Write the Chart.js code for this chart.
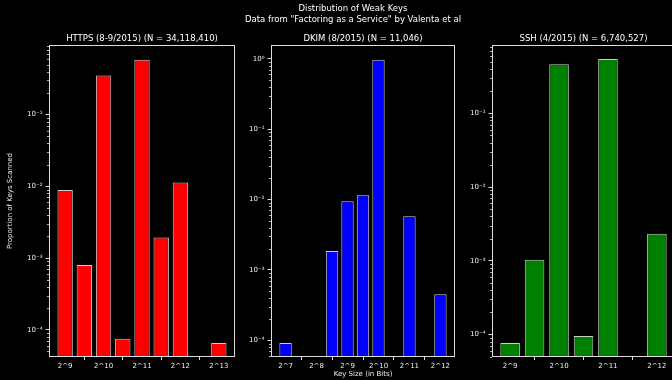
<!DOCTYPE html>
<html>
<head>
<meta charset="utf-8">
<script src="https://cdn.jsdelivr.net/npm/chart.js@4"></script>
<style>
  body { margin: 0; background: #000; overflow: hidden; width: 672px; height: 380px; position: relative; }
  .box { position: absolute; top: 0; height: 380px; }
  #suptitle { position: absolute; top: 3px; left: 0; width: 706px; text-align: center; color: #fff;
              font: 8.5px "DejaVu Sans"; line-height: 11px; z-index: 2; }
</style>
</head>
<body>
<div id="suptitle">Distribution of Weak Keys<br>Data from "Factoring as a Service" by Valenta et al</div>
<div class="box" style="left:0;width:240px"><canvas id="chart1"></canvas></div>
<div class="box" style="left:240px;width:220px"><canvas id="chart2"></canvas></div>
<div class="box" style="left:460px;width:220px"><canvas id="chart3"></canvas></div>
<script>
// key sizes (bits) per panel and proportion of keys scanned
var httpsSizes = [512, 768, 1024, 1536, 2048, 3072, 4096, 6144, 8192];
var httpsValues = [0.0089, 0.0008, 0.353, 0.000075, 0.585, 0.00194, 0.0113, null, 0.000065];

var dkimSizes = [128, 192, 256, 384, 512, 768, 1024, 1536, 2048, 3072, 4096];
var dkimValues = [0.000092, null, null, 0.00186, 0.0095, 0.0115, 0.968, null, 0.0058, null, 0.00045];

var sshSizes = [512, 768, 1024, 1536, 2048, 3072, 4096];
var sshValues = [0.000077, 0.00103, 0.462, 0.000096, 0.541, null, 0.00232];

var supers = { "-": "\u207B", "0": "\u2070", "1": "\u00B9", "2": "\u00B2", "3": "\u00B3", "4": "\u2074" };
function sup(n) {
  return String(n).split("").map(function (c) { return supers[c]; }).join("");
}
function isPow2(n) { return (n & (n - 1)) === 0; }

// spines, minor log ticks and the panel title centred over the plot area
var frame = {
  id: "frame",
  afterDraw: function (chart, args, opts) {
    var y = chart.scales.y, ctx = chart.ctx, a = chart.chartArea;
    ctx.save();
    ctx.strokeStyle = "#ddd";
    ctx.lineWidth = 0.8;
    ctx.beginPath();
    for (var e = Math.floor(Math.log10(y.min)); e <= Math.ceil(Math.log10(y.max)); e++) {
      for (var m = 2; m < 10; m++) {
        var v = m * Math.pow(10, e);
        if (v < y.min || v > y.max) continue;
        var p = Math.round(y.getPixelForValue(v)) + 0.5;
        ctx.moveTo(a.left - 2, p);
        ctx.lineTo(a.left, p);
      }
    }
    ctx.stroke();
    ctx.lineWidth = 1;
    ctx.strokeRect(Math.round(a.left) + 0.5, Math.round(a.top) + 0.5,
      Math.round(a.right - a.left) - 1, Math.round(a.bottom - a.top) - 1);
    ctx.fillStyle = "#fff";
    ctx.font = "8.5px 'DejaVu Sans'";
    ctx.textAlign = "center";
    ctx.textBaseline = "middle";
    ctx.fillText(opts.text, (a.left + a.right) / 2, 39);
    ctx.restore();
  }
};

function makeChart(id, sizes, values, color, title, yMin, yMax, yWidth, yTitle, xTitle) {
  var n = sizes.length;
  var margin = 0.05 * (n - 1 + 0.8);
  var points = [];
  values.forEach(function (v, i) { if (v !== null) points.push({ x: i, y: v }); });
  return new Chart(document.getElementById(id), {
    type: "bar",
    data: {
      datasets: [{
        data: points,
        backgroundColor: color,
        borderColor: "rgba(255,255,255,0.8)",
        borderWidth: 1,
        borderSkipped: false,
        categoryPercentage: 1,
        barPercentage: 0.8
      }]
    },
    options: {
      responsive: true,
      maintainAspectRatio: false,
      animation: false,
      layout: { padding: { left: 0, right: 5, top: 45, bottom: 0 } },
      plugins: {
        legend: { display: false },
        tooltip: { enabled: false },
        title: { display: false },
        frame: { text: title }
      },
      scales: {
        x: {
          type: "linear",
          offset: false,
          min: -0.4 - margin,
          max: n - 1 + 0.4 + margin,
          afterBuildTicks: function (scale) {
            scale.ticks = sizes.map(function (s, i) { return { value: i }; })
              .filter(function (t) { return isPow2(sizes[t.value]); });
          },
          afterFit: function (scale) { scale.height = 23; },
          ticks: {
            autoSkip: false,
            maxRotation: 0,
            color: "#eee",
            padding: 2,
            font: { family: "DejaVu Sans", size: 7 },
            callback: function (v) { return "2^" + Math.log2(sizes[v]); }
          },
          grid: { drawOnChartArea: false, drawTicks: true, tickLength: 3, color: "#ddd" },
          border: { display: false },
          title: {
            display: !!xTitle,
            text: xTitle || "",
            color: "#eee",
            font: { family: "DejaVu Sans", size: 7 },
            padding: { top: 0, bottom: 2 }
          }
        },
        y: {
          type: "logarithmic",
          min: yMin,
          max: yMax,
          afterBuildTicks: function (scale) {
            var t = [];
            for (var e = Math.ceil(Math.log10(yMin)); Math.pow(10, e) <= yMax; e++) t.push({ value: Math.pow(10, e) });
            scale.ticks = t;
          },
          afterFit: function (scale) { scale.width = yWidth; },
          ticks: {
            autoSkip: false,
            color: "#eee",
            padding: 3,
            font: { family: "DejaVu Sans", size: 7 },
            callback: function (v) { return "10" + sup(Math.round(Math.log10(v))); }
          },
          grid: { drawOnChartArea: false, drawTicks: true, tickLength: 3.5, color: "#ddd" },
          border: { display: false },
          title: {
            display: !!yTitle,
            text: yTitle || "",
            color: "#eee",
            font: { family: "DejaVu Sans", size: 7 },
            padding: { top: 6, bottom: 0 }
          }
        }
      }
    },
    plugins: [frame]
  });
}

makeChart("chart1", httpsSizes, httpsValues, "#ff0000", "HTTPS (8-9/2015) (N = 34,118,410)",
  4.16e-5, 0.938, 49, "Proportion of Keys Scanned", null);
makeChart("chart2", dkimSizes, dkimValues, "#0000ff", "DKIM (8/2015) (N = 11,046)",
  5.8e-5, 1.57, 31, null, "Key Size (in Bits)");
makeChart("chart3", sshSizes, sshValues, "#008000", "SSH (4/2015) (N = 6,740,527)",
  4.97e-5, 0.84, 32, null, null);
</script>
</body>
</html>
